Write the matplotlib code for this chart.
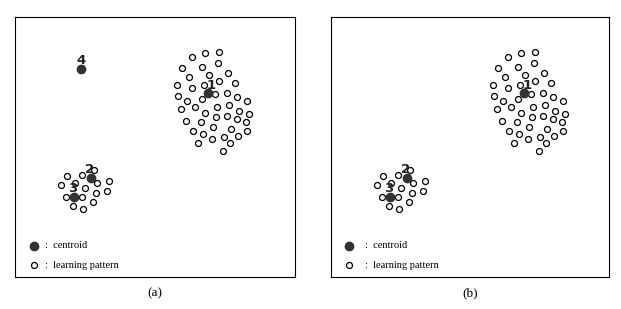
import matplotlib
matplotlib.use("Agg")
import matplotlib.pyplot as plt

# learning patterns (box-local pixel coordinates, y downward)
pat_x = [176.7, 190, 204, 166.7, 186.7, 203.3, 174, 194, 212.7, 161.7, 176.7, 189, 204, 220,
         163.3, 186.7, 200, 211.7, 222.3, 232.3, 171.7, 180, 201.7, 214.3, 224.3, 234,
         165.7, 190, 201, 211.7, 221.7, 230.7, 171, 186, 198.3, 215.7, 231.7,
         177.7, 188.3, 196.7, 209.3, 223.3, 183.3, 215, 207.7,
         79.3, 51.7, 67.3, 81.7, 94.3, 45.7, 60, 70, 81, 91.7, 50.7, 66.7, 78.3, 57.7, 68.3]
pat_y = [39.3, 36, 35, 50.3, 49.3, 46, 59.3, 57.7, 56, 67.7, 71, 67.7, 63.7, 66,
         78.7, 82, 77, 75.3, 80, 83.7, 83.7, 90, 89.3, 87.7, 93.3, 96.7,
         92, 95.3, 100, 98.3, 102, 104.3, 103.3, 104.3, 109.3, 112, 113.3,
         113.3, 116.7, 122, 120, 118.7, 125.3, 126, 133.7,
         152.7, 158.7, 157.7, 165.3, 163.3, 167.7, 166, 171, 175.3, 173.3, 179.3, 180, 185, 188.3, 192]

# centroids
cent_a_x = [192.7, 75.7, 59, 66]
cent_a_y = [76, 160.3, 179.3, 51.7]
cent_a_lab = ["1", "2", "3", "4"]
cent_b_x = [192.7, 75.7, 59]
cent_b_y = [76, 160.3, 179.3]
cent_b_lab = ["1", "2", "3"]

W, H = 621, 309
fig = plt.figure(figsize=(W / 100, H / 100), dpi=100)


def panel(left, width, cx, cy, labs, leg_dot_x, leg_txt_x, caption):
    ax = fig.add_axes([left / W, (H - 277.3) / H, width / W, 260 / H])
    ax.set_xlim(0, width)
    ax.set_ylim(260, 0)
    ax.set_xticks([])
    ax.set_yticks([])
    for s in ax.spines.values():
        s.set_linewidth(0.8)
    ax.plot(pat_x, pat_y, 'o', ms=4.3, mfc='white', mec='black', mew=0.9)
    ax.plot(cx, cy, 'o', ms=6, color='#333333')
    for x, y, t in zip(cx, cy, labs):
        dx = 3 if t == "1" else (0 if t == "4" else -1.5)
        ax.text(x + dx, y - 8, t, fontsize=9.5, fontweight='bold', color='#222222',
                ha='center', va='center', family='DejaVu Sans')
    # legend
    ax.plot([leg_dot_x], [228.7], 'o', ms=6, color='#333333', clip_on=False)
    ax.plot([leg_dot_x], [247.7], 'o', ms=4.3, mfc='white', mec='black', mew=0.9)
    ax.text(leg_txt_x, 228.7, ":  centroid", fontsize=7.5, family='Liberation Serif', va='center')
    ax.text(leg_txt_x, 247.7, ":  learning pattern", fontsize=7.5, family='Liberation Serif', va='center')
    fig.text((left + width / 2) / W, 1 - 293 / H, caption, fontsize=9.5,
             family='Liberation Serif', ha='center', va='center')
    return ax


panel(15, 280, cent_a_x, cent_a_y, cent_a_lab, 19, 30, "(a)")
panel(331, 277.5, cent_b_x, cent_b_y, cent_b_lab, 17.7, 34, "(b)")

fig.savefig("out.png", dpi=100)
